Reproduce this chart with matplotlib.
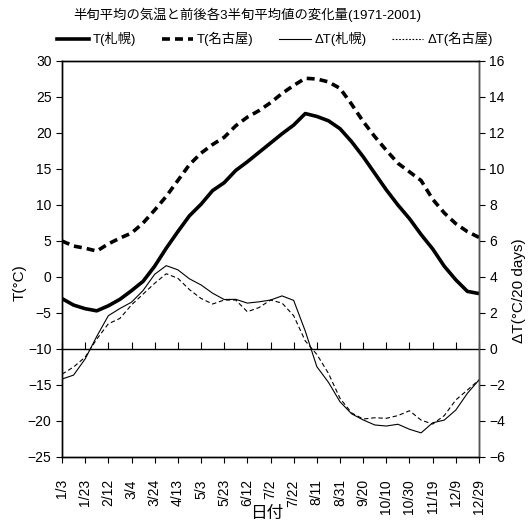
import matplotlib
matplotlib.use("Agg")
import matplotlib.pyplot as plt
from matplotlib.lines import Line2D

plt.rcParams['font.family'] = ['Liberation Sans', 'Noto Sans CJK JP', 'DejaVu Sans']

# pentad index (0 = 1/3, every 2 pentads)
pentad = list(range(0, 73, 2))
tick_pos = list(range(0, 73, 4))
tick_labels = ["1/3", "1/23", "2/12", "3/4", "3/24", "4/13", "5/3", "5/23", "6/12", "7/2",
               "7/22", "8/11", "8/31", "9/20", "10/10", "10/30", "11/19", "12/9", "12/29"]

T_sapporo = [-3.0, -3.9, -4.4, -4.7, -4.0, -3.1, -1.9, -0.6, 1.5, 4.0, 6.3, 8.5, 10.1, 12.0,
             13.1, 14.8, 16.0, 17.3, 18.6, 19.9, 21.1, 22.7, 22.3, 21.7, 20.6, 18.8, 16.7,
             14.4, 12.1, 10.0, 8.1, 5.9, 3.9, 1.5, -0.4, -2.0, -2.3]
T_nagoya = [5.0, 4.3, 4.0, 3.6, 4.6, 5.4, 6.1, 7.5, 9.3, 11.2, 13.4, 15.6, 17.2, 18.4, 19.4,
            21.0, 22.2, 23.1, 24.2, 25.5, 26.6, 27.6, 27.5, 27.1, 26.2, 24.0, 21.6, 19.5,
            17.6, 15.8, 14.6, 13.4, 10.8, 8.9, 7.4, 6.3, 5.5]
dT_sapporo = [-1.67, -1.45, -0.55, 0.7, 1.85, 2.25, 2.6, 3.25, 4.15, 4.63, 4.4, 3.9, 3.56,
              3.1, 2.75, 2.76, 2.55, 2.62, 2.72, 2.95, 2.7, 1.0, -0.98, -1.85, -2.93, -3.6,
              -3.94, -4.22, -4.28, -4.18, -4.46, -4.66, -4.1, -3.95, -3.39, -2.46, -1.72]
dT_nagoya = [-1.4, -1.0, -0.45, 0.55, 1.4, 1.7, 2.45, 3.05, 3.65, 4.18, 3.93, 3.3, 2.81,
             2.5, 2.72, 2.72, 2.07, 2.3, 2.72, 2.55, 1.85, 0.45, -0.3, -1.35, -2.74, -3.55,
             -3.89, -3.82, -3.85, -3.7, -3.43, -3.95, -4.17, -3.7, -2.83, -2.28, -1.72]

fig = plt.figure(figsize=(5.29, 5.24), dpi=100)
ax = fig.add_axes([62/529, 1-457/524, 417/529, 396/524])
ax2 = ax.twinx()

l1, = ax.plot(pentad, T_sapporo, color='black', lw=2.6, solid_capstyle='butt')
l2, = ax.plot(pentad, T_nagoya, color='black', lw=2.6, dashes=(2.2, 1.4))
l3, = ax2.plot(pentad, dT_sapporo, color='black', lw=0.8)
l4, = ax2.plot(pentad, dT_nagoya, color='black', lw=0.8, dashes=(4, 2.5))

ax.set_xlim(0, 72)
ax.set_ylim(-25, 30)
ax.set_yticks(range(-25, 31, 5))
ax2.set_ylim(-6, 16)
ax2.set_yticks(range(-6, 17, 2))
ax.set_xticks(tick_pos)
ax.set_xticklabels(tick_labels, rotation=90, fontsize=10)
ax.tick_params(axis='x', direction='out', length=4, pad=12)
ax.tick_params(axis='y', direction='out', length=4, labelsize=10)
ax2.tick_params(axis='y', direction='out', length=4, labelsize=10)

for a in (ax, ax2):
    for s in a.spines.values():
        s.set_linewidth(1.0)
        s.set_color('black')
ax2.spines['right'].set_color('#555555')

# zero line of the ΔT axis with upward ticks
sec = ax.secondary_xaxis(15/55)
sec.set_xticks(tick_pos)
sec.tick_params(direction='in', length=5, labelbottom=False)
sec.spines['bottom'].set_linewidth(1.0)

ax.set_xlabel("日付", fontsize=12, labelpad=0, va='center')
ax.xaxis.set_label_coords(0.49, -(513-457)/396)
ax.set_ylabel("T(°C)", fontsize=11)
ax.yaxis.set_label_coords(-0.086, 0.44)
ax2.set_ylabel("ΔT(°C/20 days)", fontsize=11)
ax2.yaxis.set_label_coords(1.078, 0.42)

fig.text(0.467, 0.972, "半旬平均の気温と前後各3半旬平均値の変化量(1971-2001)",
         ha='center', va='center', fontsize=9.6)

handles = [Line2D([], [], color='black', lw=2.6),
           Line2D([], [], color='black', lw=2.6, dashes=(2.2, 1.4)),
           Line2D([], [], color='black', lw=0.8),
           Line2D([], [], color='black', lw=0.8, dashes=(1.5, 1.5))]
fig.legend(handles, ["T(札幌)", "T(名古屋)", "ΔT(札幌)", "ΔT(名古屋)"],
           loc='center', bbox_to_anchor=(0.52, 0.925), ncol=4, frameon=False,
           fontsize=9.5, handlelength=2.4, columnspacing=1.9, handletextpad=0.3)

fig.savefig("out.png", dpi=100)
